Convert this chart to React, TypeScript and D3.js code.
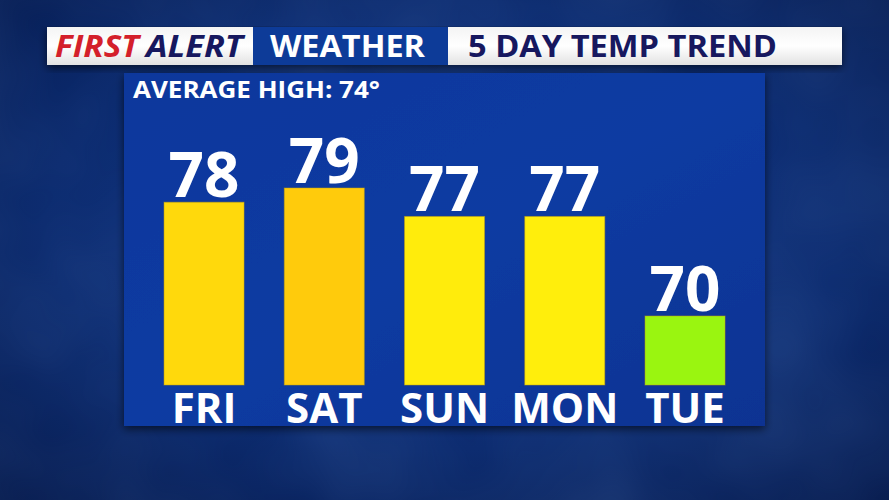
import React from "react";
import * as d3 from "d3";

const days = ["FRI", "SAT", "SUN", "MON", "TUE"];
const temps = [78, 79, 77, 77, 70];
const barColors = ["#FFD90C", "#FFCB0C", "#FFEC0C", "#FFEE0C", "#9AF510"];
const averageHigh = 74;
const titleParts = ["FIRST", "ALERT", "WEATHER", "5 DAY TEMP TREND"];

const W = 889;
const H = 500;
const FONT = "'Open Sans', 'DejaVu Sans', sans-serif";

export default function App() {
  const x = d3
    .scaleBand<string>()
    .domain(days)
    .range([143.9, 745.15])
    .paddingInner(0.3347)
    .paddingOuter(0.1674);
  const y = d3.scaleLinear().domain([65.15, 79]).range([385, 188]);
  const base = y(65.15);

  return (
    <svg
      width={W}
      height={H}
      style={{ position: "absolute", left: 0, top: 0, display: "block" }}
    >
      <defs>
        <radialGradient id="bg" cx="0.5" cy="0.45" r="0.75">
          <stop offset="0" stopColor="#10368a" />
          <stop offset="0.6" stopColor="#0b2a6e" />
          <stop offset="1" stopColor="#061a4c" />
        </radialGradient>
        <linearGradient id="panel" x1="0" y1="0" x2="1" y2="1">
          <stop offset="0" stopColor="#08379c" />
          <stop offset="0.5" stopColor="#0a3ba2" />
          <stop offset="1" stopColor="#073392" />
        </linearGradient>
        <linearGradient id="white" x1="0" y1="0" x2="0" y2="1">
          <stop offset="0" stopColor="#f4f4f4" />
          <stop offset="0.5" stopColor="#ffffff" />
          <stop offset="1" stopColor="#e2e2e2" />
        </linearGradient>
        <filter id="shadow" x="-10%" y="-10%" width="120%" height="130%">
          <feGaussianBlur in="SourceAlpha" stdDeviation="4" />
          <feOffset dx="0" dy="3" result="b" />
          <feComponentTransfer>
            <feFuncA type="linear" slope="0.6" />
          </feComponentTransfer>
          <feMerge>
            <feMergeNode />
            <feMergeNode in="SourceGraphic" />
          </feMerge>
        </filter>
        <filter id="clouds" x="0" y="0" width="100%" height="100%">
          <feTurbulence type="fractalNoise" baseFrequency="0.006" numOctaves="3" seed="4" />
          <feColorMatrix
            type="matrix"
            values="0 0 0 0 0.15  0 0 0 0 0.3  0 0 0 0 0.65  0 0 0 0.55 -0.12"
          />
        </filter>
      </defs>

      <rect x={0} y={0} width={W} height={H} fill="url(#bg)" />
      <rect x={0} y={0} width={W} height={H} filter="url(#clouds)" opacity={0.45} />

      {/* header strip */}
      <g filter="url(#shadow)">
        <rect x={47} y={27} width={795} height={38} fill="url(#white)" />
        <rect x={253} y={27} width={195} height={38} fill="#0b3a98" />
      </g>
      <text
        x={55}
        y={57}
        fontFamily={FONT}
        fontWeight={700}
        fontStyle="italic"
        fontSize={31}
        fill="#d41f2b"
        textLength={84}
        lengthAdjust="spacingAndGlyphs"
      >
        {titleParts[0]}
      </text>
      <text
        x={146}
        y={57}
        fontFamily={FONT}
        fontWeight={700}
        fontStyle="italic"
        fontSize={31}
        fill="#17185f"
        textLength={97}
        lengthAdjust="spacingAndGlyphs"
      >
        {titleParts[1]}
      </text>
      <text
        x={270}
        y={57}
        fontFamily={FONT}
        fontWeight={700}
        fontSize={31}
        fill="#ffffff"
        textLength={155}
        lengthAdjust="spacingAndGlyphs"
      >
        {titleParts[2]}
      </text>
      <text
        x={468}
        y={57}
        fontFamily={FONT}
        fontWeight={700}
        fontSize={31}
        fill="#17185f"
        textLength={309}
        lengthAdjust="spacingAndGlyphs"
      >
        {titleParts[3]}
      </text>

      {/* main panel */}
      <rect
        x={124}
        y={73}
        width={641}
        height={353}
        fill="url(#panel)"
        filter="url(#shadow)"
      />
      <text
        x={133}
        y={98}
        fontFamily={FONT}
        fontWeight={700}
        fontSize={24}
        fill="#ffffff"
        textLength={247}
        lengthAdjust="spacingAndGlyphs"
      >
        {`AVERAGE HIGH: ${averageHigh}°`}
      </text>

      {days.map((d, i) => {
        const bx = x(d)!;
        const bw = x.bandwidth();
        const top = y(temps[i]);
        return (
          <g key={d}>
            <rect
              x={bx}
              y={top}
              width={bw}
              height={base - top}
              fill={barColors[i]}
              stroke="#c9a40a"
              strokeOpacity={0.5}
              strokeWidth={1}
            />
            <text
              x={bx + bw / 2}
              y={top - 5}
              textAnchor="middle"
              fontFamily={FONT}
              fontWeight={700}
              fontSize={62}
              fill="#ffffff"
            >
              {temps[i]}
            </text>
            <text
              x={bx + bw / 2}
              y={423}
              textAnchor="middle"
              fontFamily={FONT}
              fontWeight={700}
              fontSize={42}
              fill="#ffffff"
            >
              {d}
            </text>
          </g>
        );
      })}
    </svg>
  );
}
